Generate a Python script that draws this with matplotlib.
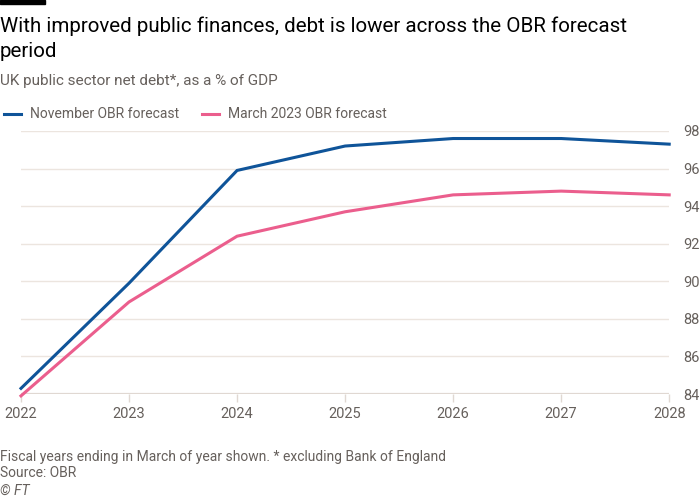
import matplotlib
matplotlib.use("Agg")
import matplotlib.pyplot as plt
from matplotlib.lines import Line2D

plt.rcParams["font.family"] = ["Roboto", "DejaVu Sans"]

years = [2022, 2023, 2024, 2025, 2026, 2027, 2028]
november = [84.3, 89.9, 95.9, 97.2, 97.6, 97.6, 97.3]
march_2023 = [83.9, 88.9, 92.4, 93.7, 94.6, 94.8, 94.6]
y_ticks = [84, 86, 88, 90, 92, 94, 96, 98]

BLUE = "#0f5499"
PINK = "#eb5e8d"
GRID = "#ece5df"
TEXT = "#66605c"

fig = plt.figure(figsize=(7, 5), dpi=100)
ax = fig.add_axes([0.03, 0.212, 0.926, 0.526])

for y in y_ticks:
    ax.axhline(y, color=GRID, lw=1, zorder=0)
ax.axhline(84, color="#e0d8d2", lw=1.6, zorder=1)

ax.plot(years, november, color=BLUE, lw=2.2, clip_on=False, zorder=3,
        solid_joinstyle="miter")
ax.plot(years, march_2023, color=PINK, lw=2.2, clip_on=False, zorder=3,
        solid_joinstyle="miter")

ax.set_xlim(2022, 2028)
ax.set_ylim(84, 98)
ax.set_xticks(years)
ax.set_yticks(y_ticks)
ax.yaxis.tick_right()
ax.tick_params(axis="y", length=0, pad=10, labelsize=10.5, labelcolor=TEXT)
ax.tick_params(axis="x", length=6, width=1, color="#e0d8d2", pad=3,
               labelsize=10.5, labelcolor=TEXT)
for s in ax.spines.values():
    s.set_visible(False)

# header
fig.patches.append(plt.Rectangle((0, 0.992), 0.064, 0.008, transform=fig.transFigure,
                                 color="black", zorder=5))
fig.text(0.0, 0.968, "With improved public finances, debt is lower across the OBR forecast\nperiod",
         fontsize=14.8, color="#000000", va="top", ha="left", linespacing=1.45)
fig.text(0.0, 0.838, "UK public sector net debt*, as a % of GDP",
         fontsize=11, color=TEXT, va="center", ha="left")

handles = [Line2D([0], [0], color=BLUE, lw=2.2),
           Line2D([0], [0], color=PINK, lw=2.2)]
fig.legend(handles, ["November OBR forecast", "March 2023 OBR forecast"],
           loc="center left", bbox_to_anchor=(-0.012, 0.771), ncol=2, frameon=False,
           fontsize=10, labelcolor=TEXT, handlelength=1.2, handletextpad=0.7,
           columnspacing=1.6)

fig.text(0.0, 0.086, "Fiscal years ending in March of year shown. * excluding Bank of England",
         fontsize=10, color=TEXT, va="center", ha="left")
fig.text(0.0, 0.054, "Source: OBR", fontsize=10, color=TEXT, va="center", ha="left")
fig.text(0.0, 0.019, "© FT", fontsize=10, color=TEXT, va="center", ha="left",
         style="italic")

fig.savefig("out.png", dpi=100, facecolor="white")
